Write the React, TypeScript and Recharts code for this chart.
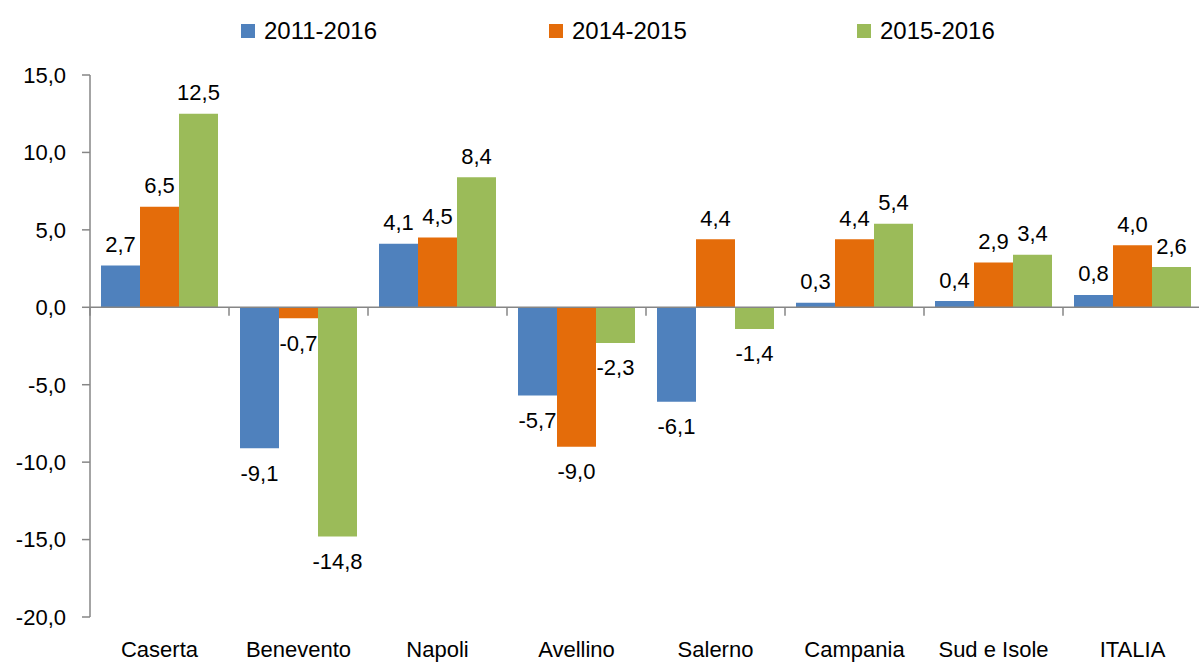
import React from 'react';
import {
  BarChart,
  Bar,
  XAxis,
  YAxis,
  ReferenceLine,
  LabelList,
} from 'recharts';

const categories = [
  'Caserta',
  'Benevento',
  'Napoli',
  'Avellino',
  'Salerno',
  'Campania',
  'Sud e Isole',
  'ITALIA',
];
const values2011to2016 = [2.7, -9.1, 4.1, -5.7, -6.1, 0.3, 0.4, 0.8];
const values2014to2015 = [6.5, -0.7, 4.5, -9.0, 4.4, 4.4, 2.9, 4.0];
const values2015to2016 = [12.5, -14.8, 8.4, -2.3, -1.4, 5.4, 3.4, 2.6];
const yTicks = [-20, -15, -10, -5, 0, 5, 10, 15];

const series = [
  { key: 'p1', label: '2011-2016', values: values2011to2016, color: '#4F81BD' },
  { key: 'p2', label: '2014-2015', values: values2014to2015, color: '#E46C0A' },
  { key: 'p3', label: '2015-2016', values: values2015to2016, color: '#9BBB59' },
];

const data = categories.map((name, i) => {
  const row: Record<string, string | number> = { name };
  series.forEach((s) => {
    row[s.key] = s.values[i];
  });
  return row;
});

const FONT = "'Liberation Sans', Arial, sans-serif";
const AXIS_COLOR = '#868686';

const fmt = (v: number) => v.toFixed(1).replace('.', ',');

const renderLabel = (props: any) => {
  const box = props.viewBox || props;
  const { x, y, width, height } = box;
  const value = Number(props.value);
  const top = Math.min(y, y + height);
  const bottom = Math.max(y, y + height);
  const cy = value >= 0 ? top - 21 : bottom + 25;
  return (
    <text
      x={x + width / 2}
      y={cy}
      textAnchor='middle'
      dominantBaseline='central'
      fill='#000'
      fontSize={22}
      fontFamily={FONT}
    >
      {fmt(value)}
    </text>
  );
};

const App: React.FC = () => {
  return (
    <div
      style={{
        position: 'absolute',
        top: 0,
        left: 0,
        width: 1199,
        height: 664,
        overflow: 'hidden',
        background: '#fff',
        fontFamily: FONT,
      }}
    >
      {/* legend */}
      {series.map((s, i) => (
        <div
          key={s.key}
          style={{
            position: 'absolute',
            left: 241 + i * 308,
            top: 17,
            height: 28,
            display: 'flex',
            alignItems: 'center',
            whiteSpace: 'nowrap',
          }}
        >
          <span
            style={{
              display: 'inline-block',
              width: 14,
              height: 14,
              background: s.color,
              marginRight: 9,
            }}
          />
          <span style={{ fontSize: 24, color: '#000' }}>{s.label}</span>
        </div>
      ))}
      <BarChart
        width={1202}
        height={664}
        data={data}
        margin={{ top: 75, right: 0, left: 0, bottom: 0 }}
        barCategoryGap={11}
        barGap={0}
      >
        <XAxis
          dataKey='name'
          height={47}
          axisLine={false}
          tickLine={false}
          tickSize={0}
          tickMargin={24}
          interval={0}
          tick={{ fill: '#000', fontSize: 22, fontFamily: FONT }}
        />
        <YAxis
          width={90}
          domain={[-20, 15]}
          ticks={yTicks}
          interval={0}
          tickFormatter={fmt}
          axisLine={{ stroke: AXIS_COLOR, strokeWidth: 1.5 }}
          tickLine={{ stroke: AXIS_COLOR, strokeWidth: 1.5 }}
          tickSize={8}
          tickMargin={16}
          tick={{ fill: '#000', fontSize: 22, fontFamily: FONT }}
        />
        <ReferenceLine y={0} stroke={AXIS_COLOR} strokeWidth={1.5} />
        {categories.map((c) => (
          <ReferenceLine
            key={`tick-${c}`}
            segment={[
              { x: c, y: 0 },
              { x: c, y: -0.55 },
            ]}
            position='start'
            stroke={AXIS_COLOR}
            strokeWidth={1.5}
          />
        ))}
        {series.map((s) => (
          <Bar
            key={s.key}
            dataKey={s.key}
            name={s.label}
            fill={s.color}
            isAnimationActive={false}
          >
            <LabelList dataKey={s.key} content={renderLabel} />
          </Bar>
        ))}
      </BarChart>
    </div>
  );
};

export default App;
